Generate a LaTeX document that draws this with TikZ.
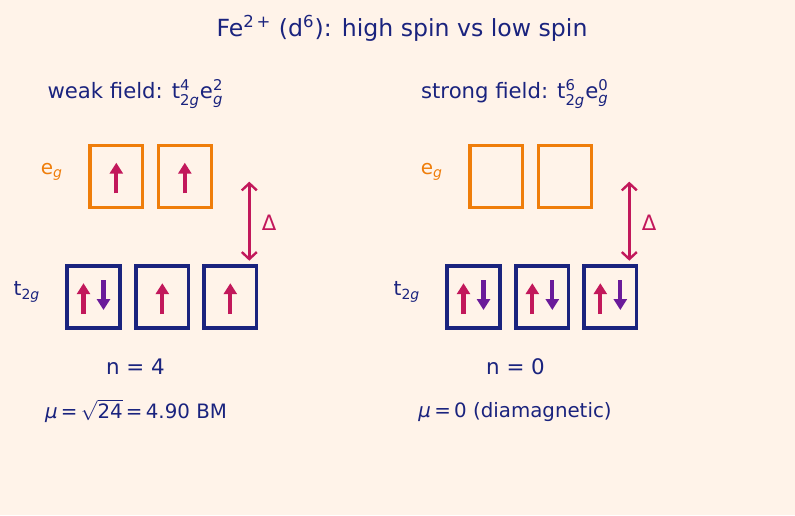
\documentclass[tikz,border=0pt]{standalone}
\usepackage{amsmath}
\usepackage{fontspec}
\setmainfont{DejaVu Sans}
\usepackage{tikz}
\usetikzlibrary{arrows.meta,positioning}
\usepackage{xcolor}
\definecolor{bgpeach}{HTML}{FFF3E9}
\definecolor{ffnavy}{HTML}{1A237E}
\definecolor{fforange}{HTML}{EF7D0A}
\definecolor{ffcrimson}{HTML}{C2185B}
\definecolor{ffpurple}{HTML}{6A1B9A}
\tikzstyle{egbox} = [rectangle, minimum width=26.4pt, minimum height=30.9pt, inner sep=0pt, draw=fforange, line width=1.65pt]
\tikzstyle{tbox} = [rectangle, minimum width=26.4pt, minimum height=30.9pt, inner sep=0pt, draw=ffnavy, line width=1.65pt]
\tikzstyle{spinup} = [line width=2.1pt, -{Triangle[length=5.5pt,width=6.5pt]}, color=ffcrimson]
\tikzstyle{spindown} = [line width=2.1pt, -{Triangle[length=5.5pt,width=6.5pt]}, color=ffpurple]
\tikzstyle{gap} = [line width=1.2pt, {Straight Barb[length=3.5pt,width=7.5pt]}-{Straight Barb[length=3.5pt,width=7.5pt]}, color=ffcrimson]
\tikzstyle{heading} = [text=ffnavy, font=\fontsize{10.6}{12}\selectfont]
\tikzstyle{lvl} = [font=\fontsize{10}{12}\selectfont]

\begin{document}
\begin{tikzpicture}[x=0.5pt,y=-0.5pt]
% Background
\path[fill=bgpeach] (0,0) rectangle (795,515);

% Title
\node[text=ffnavy, font=\fontsize{11.8}{14}\selectfont] (title) at (402,28) {Fe$^{\text{2\,+}}$ (d$^{\text{6}}$): high spin vs low spin};

% Weak field (high spin)
\node[heading] (weak) at (135.5,94) {weak field: t$^{\text{4}}_{\text{2\textit{g}}}$e$^{\text{2}}_{\text{\textit{g}}}$};
\node[lvl, text=fforange] (weg) at (52,172) {e$_{\text{\textit{g}}}$};
\node[lvl, text=ffnavy] (wt) at (27,292) {t$_{\text{2\textit{g}}}$};
\node[egbox] (we1) at (116.3,176.5) {};
\node[egbox] (we2) at (184.8,176.5) {};
\node[tbox] (wt1) at (93.5,297) {};
\node[tbox] (wt2) at (162.3,297) {};
\node[tbox] (wt3) at (230.3,297) {};
\draw[spinup] ([yshift=-8.4pt]we1.center) -- ([yshift=6.9pt]we1.center);
\draw[spinup] ([yshift=-8.4pt]we2.center) -- ([yshift=6.9pt]we2.center);
\draw[spinup] ([xshift=-5pt,yshift=-8.6pt]wt1.center) -- ([xshift=-5pt,yshift=6.9pt]wt1.center);
\draw[spindown] ([xshift=5pt,yshift=8.5pt]wt1.center) -- ([xshift=5pt,yshift=-6.5pt]wt1.center);
\draw[spinup] ([yshift=-8.6pt]wt2.center) -- ([yshift=6.9pt]wt2.center);
\draw[spinup] ([yshift=-8.6pt]wt3.center) -- ([yshift=6.9pt]wt3.center);
\coordinate (wtop) at (249.3,181.7);
\coordinate (wbot) at (249.3,260.7);
\draw[gap] (wtop) -- (wbot);
\node[text=ffcrimson, font=\fontsize{10.6}{12}\selectfont] (wdelta) at (269,222.7) {Δ};
\node[heading, font=\fontsize{10.7}{12}\selectfont] (wn) at (135.5,367) {n = 4};
\node[heading, font=\fontsize{9.9}{11}\selectfont] (wmu) at (136,411) {\textit{μ}\,=\,$\sqrt{\text{24}}$\,=\,4.90 BM};

% Strong field (low spin)
\node[heading] (strong) at (515,94) {strong field: t$^{\text{6}}_{\text{2\textit{g}}}$e$^{\text{0}}_{\text{\textit{g}}}$};
\node[lvl, text=fforange] (seg) at (432,172) {e$_{\text{\textit{g}}}$};
\node[lvl, text=ffnavy] (st) at (407,292) {t$_{\text{2\textit{g}}}$};
\node[egbox] (se1) at (496.3,176.5) {};
\node[egbox] (se2) at (564.8,176.5) {};
\node[tbox] (st1) at (473.5,297) {};
\node[tbox] (st2) at (542.3,297) {};
\node[tbox] (st3) at (610.3,297) {};
\draw[spinup] ([xshift=-5pt,yshift=-8.6pt]st1.center) -- ([xshift=-5pt,yshift=6.9pt]st1.center);
\draw[spindown] ([xshift=5pt,yshift=8.5pt]st1.center) -- ([xshift=5pt,yshift=-6.5pt]st1.center);
\draw[spinup] ([xshift=-5pt,yshift=-8.6pt]st2.center) -- ([xshift=-5pt,yshift=6.9pt]st2.center);
\draw[spindown] ([xshift=5pt,yshift=8.5pt]st2.center) -- ([xshift=5pt,yshift=-6.5pt]st2.center);
\draw[spinup] ([xshift=-5pt,yshift=-8.6pt]st3.center) -- ([xshift=-5pt,yshift=6.9pt]st3.center);
\draw[spindown] ([xshift=5pt,yshift=8.5pt]st3.center) -- ([xshift=5pt,yshift=-6.5pt]st3.center);
\coordinate (stop) at (629.3,181.7);
\coordinate (sbot) at (629.3,260.7);
\draw[gap] (stop) -- (sbot);
\node[text=ffcrimson, font=\fontsize{10.6}{12}\selectfont] (sdelta) at (649,222.7) {Δ};
\node[heading, font=\fontsize{10.7}{12}\selectfont] (sn) at (515.5,367) {n = 0};
\node[heading, font=\fontsize{9.9}{11}\selectfont] (smu) at (515,412) {\textit{μ}\,=\,0 (diamagnetic)};
\end{tikzpicture}
\end{document}
